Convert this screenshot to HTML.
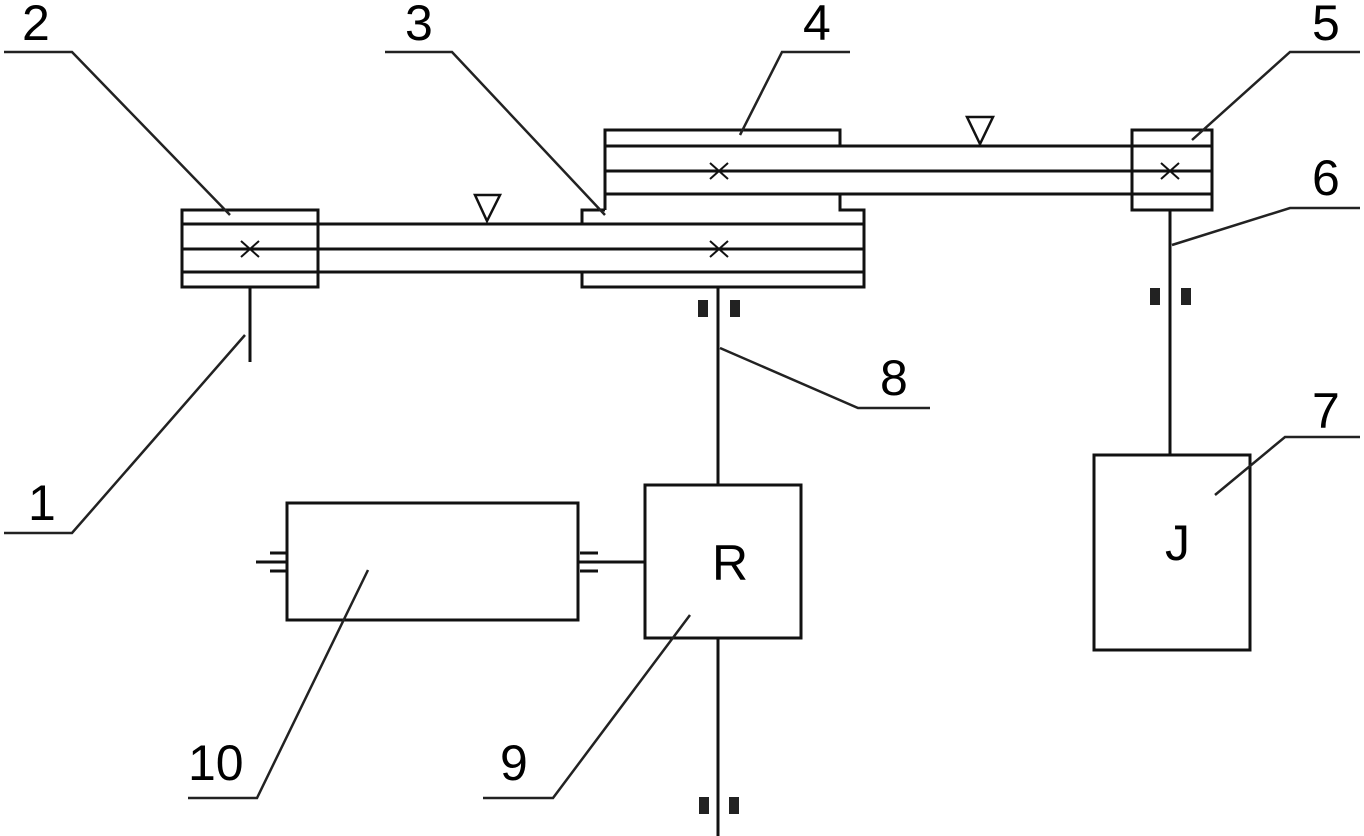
<!DOCTYPE html>
<html><head><meta charset="utf-8"><style>html,body{margin:0;padding:0;background:#fff}svg{display:block}</style></head>
<body>
<svg width="1364" height="836" viewBox="0 0 1364 836" xmlns="http://www.w3.org/2000/svg">
<g fill="none" stroke="#111" stroke-width="3">
<!-- lower belt -->
<rect x="182" y="210" width="136" height="77"/>
<line x1="182" y1="224" x2="864" y2="224"/>
<line x1="182" y1="249" x2="864" y2="249"/>
<line x1="182" y1="272" x2="864" y2="272"/>
<polyline points="582,224 582,210 605,210"/>
<polyline points="582,272 582,287 864,287 864,210 840,210 840,194"/>
<!-- upper belt -->
<polyline points="605,210 605,130 840,130 840,146"/>
<line x1="605" y1="146" x2="1212" y2="146"/>
<line x1="605" y1="171" x2="1212" y2="171"/>
<line x1="605" y1="194" x2="1212" y2="194"/>
<rect x="1132" y="130" width="80" height="80"/>
<!-- shafts -->
<line x1="250" y1="287" x2="250" y2="362"/>
<line x1="718" y1="287" x2="718" y2="485"/>
<line x1="718" y1="638" x2="718" y2="836"/>
<line x1="1170" y1="210" x2="1170" y2="455"/>
<rect x="1094" y="455" width="156" height="195"/>
<rect x="645" y="485" width="156" height="153"/>
<rect x="287" y="503" width="291" height="117"/>
<line x1="578" y1="562" x2="645" y2="562"/>
<line x1="256" y1="562" x2="287" y2="562"/>
<line x1="270" y1="553" x2="287" y2="553"/><line x1="270" y1="571" x2="287" y2="571"/>
<line x1="580" y1="553" x2="598" y2="553"/><line x1="580" y1="571" x2="598" y2="571"/>
<!-- triangles -->
<polygon points="475,195 500,195 487,221" stroke-width="2.5"/>
<polygon points="967,117 993,117 980,144" stroke-width="2.5"/>
</g>
<!-- crosses -->
<g stroke="#111" stroke-width="2">
<path d="M241,241 L259,257 M259,241 L241,257"/>
<path d="M710,241 L728,257 M728,241 L710,257"/>
<path d="M710,163 L728,179 M728,163 L710,179"/>
<path d="M1161,163 L1179,179 M1179,163 L1161,179"/>
</g>
<!-- bearings -->
<g fill="#222">
<rect x="698" y="300" width="10" height="17"/><rect x="730" y="300" width="10" height="17"/>
<rect x="1150" y="288" width="10" height="17"/><rect x="1181" y="288" width="10" height="17"/>
<rect x="699" y="797" width="10" height="17"/><rect x="729" y="797" width="10" height="17"/>
</g>
<!-- leaders -->
<g fill="none" stroke="#222" stroke-width="2.5">
<polyline points="4,52 72,52 230,215"/>
<polyline points="385,52 452,52 605,215"/>
<polyline points="850,52 782,52 740,135"/>
<polyline points="1360,52 1290,52 1192,140"/>
<polyline points="1360,208 1290,208 1172,245"/>
<polyline points="1360,437 1285,437 1215,495"/>
<polyline points="930,408 858,408 720,348"/>
<polyline points="4,533 72,533 245,335"/>
<polyline points="188,798 257,798 368,570"/>
<polyline points="483,798 553,798 690,615"/>
</g>
<g font-family="Liberation Sans, sans-serif" font-size="50" fill="#000">
<text x="22" y="40">2</text>
<text x="405" y="40">3</text>
<text x="803" y="40">4</text>
<text x="1312" y="40">5</text>
<text x="1312" y="195">6</text>
<text x="1312" y="428">7</text>
<text x="880" y="395">8</text>
<text x="28" y="520">1</text>
<text x="188" y="780">10</text>
<text x="500" y="780">9</text>
<text x="712" y="580">R</text>
<text x="1165" y="560">J</text>
</g>
</svg>
</body></html>
